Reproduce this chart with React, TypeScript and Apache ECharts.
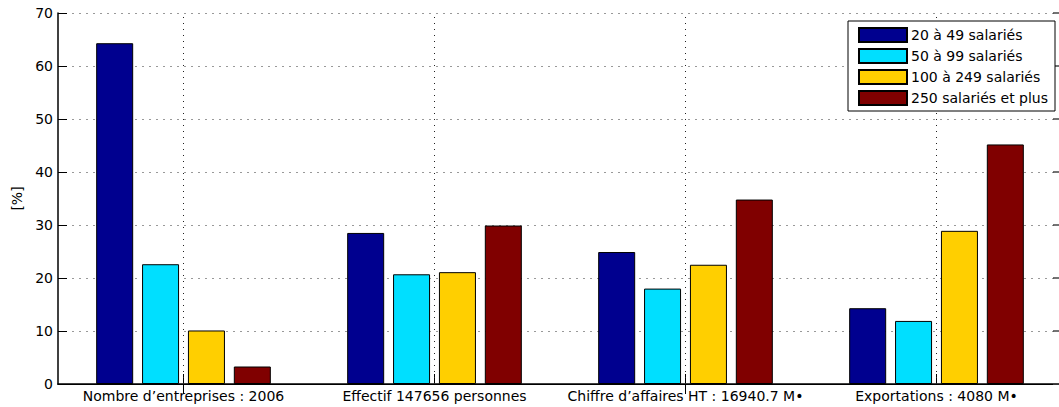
import React, { useEffect, useRef } from 'react';
import * as echarts from 'echarts';

const categories = [
  'Nombre d’entreprises : 2006',
  'Effectif 147656 personnes',
  'Chiffre d’affaires HT : 16940.7 M•',
  'Exportations : 4080 M•',
];
const seriesNames = ['20 à 49 salariés', '50 à 99 salariés', '100 à 249 salariés', '250 salariés et plus'];
const small = [64.3, 28.5, 24.9, 14.3];
const medium = [22.6, 20.7, 18.0, 11.9];
const large = [10.1, 21.1, 22.5, 28.9];
const huge = [3.3, 29.9, 34.8, 45.2];
const seriesValues = [small, medium, large, huge];
const colors = ['#00008f', '#00dfff', '#ffcf00', '#800000'];
const yMin = 0;
const yMax = 70;
const yStep = 10;
const yName = '[%]';

const FONT = 'DejaVu Sans, Verdana, sans-serif';
const FS = 14;

export default function App() {
  const ref = useRef<HTMLDivElement>(null);
  useEffect(() => {
    if (!ref.current) return;
    const chart = echarts.init(ref.current, null, { renderer: 'svg' });
    const bars = seriesValues.map((vals, i) => ({
      type: 'bar',
      name: seriesNames[i],
      data: vals,
      xAxisIndex: 0,
      yAxisIndex: 0,
      barWidth: 37,
      barGap: '24%',
      z: 3,
      itemStyle: { color: colors[i], borderColor: '#000', borderWidth: 1 },
    }));
    const gridLines = {
      type: 'line',
      name: 'vgrid',
      data: [],
      xAxisIndex: 0,
      yAxisIndex: 0,
      showSymbol: false,
      silent: true,
      z: 1,
      markLine: {
        silent: true,
        symbol: 'none',
        label: { show: false },
        z: 1,
        lineStyle: { color: '#222', type: [1, 5], width: 1 },
        data: categories.map((c) => ({ xAxis: c })),
      },
    };
    const option: any = {
      animation: false,
      backgroundColor: '#ffffff',
      textStyle: { fontFamily: FONT },
      grid: { left: 58, top: 13, width: 1004, height: 371, outerBoundsMode: 'none', containLabel: false },
      legend: {
        data: seriesNames,
        orient: 'vertical',
        left: 848,
        top: 21,
        padding: [6, 7, 5, 10],
        icon: 'rect',
        itemWidth: 48,
        itemHeight: 14,
        itemGap: 5,
        borderColor: '#000',
        borderWidth: 1,
        borderRadius: 0,
        backgroundColor: '#fff',
        textStyle: { fontFamily: FONT, fontSize: FS, color: '#000', lineHeight: 14, padding: [0, 0, 0, -1] },
      },
      xAxis: [
        {
          type: 'category',
          data: categories,
          position: 'bottom',
          axisLine: { show: true, lineStyle: { color: '#000', width: 1.5 } },
          axisTick: { show: true, inside: true, length: 10, alignWithLabel: true, lineStyle: { color: '#000' } },
          axisLabel: { color: '#000', fontSize: FS, fontFamily: FONT, margin: 5, interval: 0 },
          splitLine: { show: false },
        },
        {
          type: 'category',
          data: categories,
          position: 'top',
          axisLine: { show: true, lineStyle: { color: '#000', width: 1 } },
          axisTick: { show: true, inside: true, length: 10, alignWithLabel: true, lineStyle: { color: '#000' } },
          axisLabel: { show: false },
          splitLine: { show: false },
        },
      ],
      yAxis: [
        {
          type: 'value',
          min: yMin,
          max: yMax,
          interval: yStep,
          position: 'left',
          name: yName,
          nameLocation: 'middle',
          nameGap: 33,
          nameTextStyle: { color: '#000', fontSize: FS, fontFamily: FONT },
          axisLine: { show: true, lineStyle: { color: '#000', width: 1.5 } },
          axisTick: { show: true, inside: true, length: 9, lineStyle: { color: '#000' } },
          axisLabel: { color: '#000', fontSize: FS, fontFamily: FONT, margin: 5 },
          splitLine: { show: true, lineStyle: { color: '#999', type: [2, 5], width: 1 } },
        },
        {
          type: 'value',
          min: yMin,
          max: yMax,
          interval: yStep,
          position: 'right',
          axisLine: { show: false },
          axisTick: { show: true, inside: true, length: 9, lineStyle: { color: '#444', width: 1.5 } },
          axisLabel: { show: false },
          splitLine: { show: false },
        },
      ],
      series: [gridLines, ...bars],
    };
    chart.setOption(option);
    return () => chart.dispose();
  }, []);
  return (
    <div
      ref={ref}
      style={{ position: 'absolute', left: 0, top: 0, width: 1059, height: 407, background: '#fff', overflow: 'hidden' }}
    />
  );
}
